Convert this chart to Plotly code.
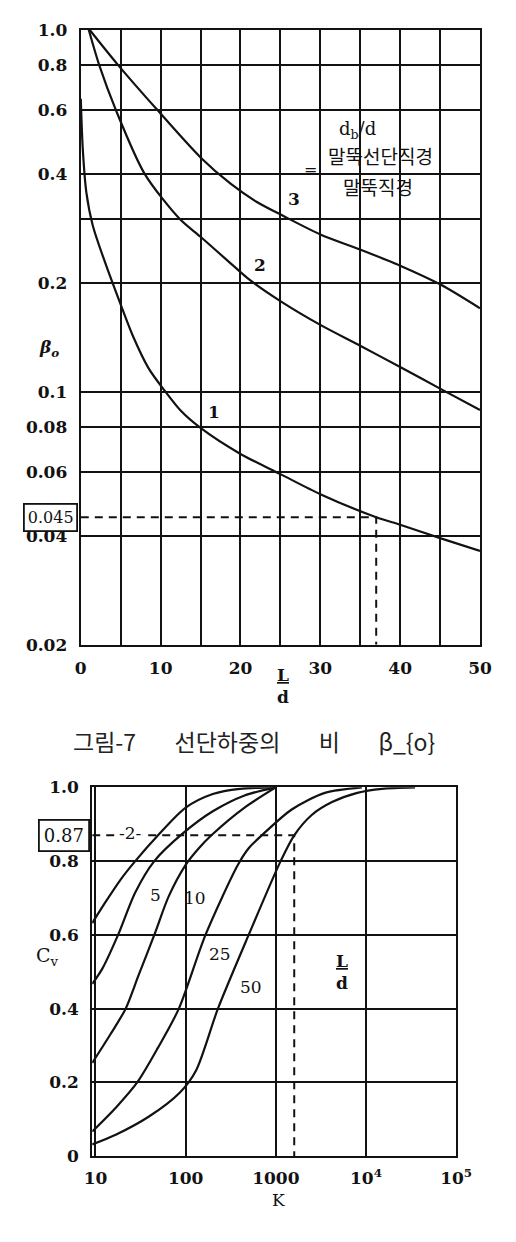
import math
import plotly.graph_objects as go

# page body has an 8px default margin -> lay the figure out in reference pixels minus 8
OFF = 8
W, H = 516 - OFF, 1242 - OFF


def fx(px):
    return (px - OFF) / W


def fy(py):
    return 1 - (py - OFF) / H


# ---------------- top chart: beta_o vs L/d ----------------
ld_ticks = [0, 10, 20, 30, 40, 50]
ld_minor = [5, 15, 25, 35, 45]
beta_ticks = [0.02, 0.04, 0.06, 0.08, 0.1, 0.2, 0.4, 0.6, 0.8, 1.0]
beta_ticktext = ["0.02", "0.04", "0.06", "0.08", "0.1", "0.2", "0.4", "0.6", "0.8", "1.0"]
beta_minor = [0.3]

c1_ld = [0, 0.25, 0.7, 1.5, 3, 5, 6.5, 8.5, 10.6, 12.5, 15, 20, 25, 30, 37, 40, 45, 50]
c1_beta = [0.645, 0.468, 0.355, 0.288, 0.229, 0.174, 0.143, 0.116, 0.1, 0.0887, 0.0794,
           0.0673, 0.0592, 0.0521, 0.045, 0.0429, 0.0394, 0.0363]
c2_ld = [1.0, 2.3, 4.4, 8.0, 12.4, 15, 18.8, 21, 25, 30, 35, 40, 45, 50]
c2_beta = [1.0, 0.8, 0.6, 0.4, 0.3, 0.268, 0.226, 0.205, 0.178, 0.153, 0.134, 0.117, 0.102, 0.089]
c3_ld = [1.1, 4.65, 9.6, 15, 18.8, 22, 25.5, 30, 35, 40, 45, 50]
c3_beta = [1.0, 0.8, 0.6, 0.444, 0.375, 0.335, 0.305, 0.272, 0.247, 0.223, 0.198, 0.17]

curve_labels_top = ["1", "2", "3"]
label_ld = [16.7, 22.5, 26.7]
label_beta = [0.088, 0.224, 0.341]

read_beta = 0.045
read_ld = 37

# ---------------- bottom chart: Cv vs K ----------------
k_ticks = [10, 100, 1000, 10000, 100000]
k_ticktext = ["10", "100", "1000", "10<sup>4</sup>", "10<sup>5</sup>"]
cv_ticks = [0, 0.2, 0.4, 0.6, 0.8, 1.0]
cv_ticktext = ["0", "0.2", "0.4", "0.6", "0.8", "1.0"]
k_min = 9.2

r2_k = [9.2, 13, 19, 27.6, 49.4, 100, 200, 400, 1000]
r2_cv = [0.632, 0.69, 0.75, 0.8, 0.87, 0.945, 0.982, 0.996, 1.0]
r5_k = [9.2, 12, 17.8, 27.6, 44.9, 93, 200, 450, 1000]
r5_cv = [0.467, 0.51, 0.6, 0.715, 0.8, 0.875, 0.935, 0.978, 1.0]
r10_k = [9.2, 14.6, 21.6, 30, 44.9, 65, 100, 140, 193, 450, 1000]
r10_cv = [0.253, 0.33, 0.40, 0.49, 0.6, 0.705, 0.79, 0.835, 0.87, 0.945, 1.0]
r25_k = [9.2, 17, 29, 49, 84, 166, 380, 500, 700, 1500, 3500, 9000]
r25_cv = [0.067, 0.133, 0.2, 0.293, 0.40, 0.6, 0.79, 0.835, 0.87, 0.94, 0.985, 1.0]
r50_k = [9.2, 17, 38.8, 86.4, 130, 228, 500, 1130, 1600, 2500, 4200, 8000, 15000, 35000]
r50_cv = [0.032, 0.059, 0.107, 0.173, 0.232, 0.40, 0.6, 0.8, 0.87, 0.925, 0.96, 0.985, 0.996, 1.0]

curve_labels_bot = ["-2-", "5", "10", "25", "50"]
label_k = [24.4, 46, 128, 240, 535]
label_cv = [0.875, 0.707, 0.70, 0.547, 0.46]

read_cv = 0.87
read_k = 1600

INK = "#121212"
SERIF = "DejaVu Serif"
KR = "Noto Sans CJK KR"

fig = go.Figure()


def curve(x, y, xa, ya):
    fig.add_trace(go.Scatter(x=x, y=y, mode="lines", xaxis=xa, yaxis=ya,
                             line=dict(color=INK, width=2.2, shape="spline", smoothing=0.8),
                             hoverinfo="skip", showlegend=False))


for xs, ys in [(c1_ld, c1_beta), (c2_ld, c2_beta), (c3_ld, c3_beta)]:
    curve(xs, ys, "x", "y")
for xs, ys in [(r2_k, r2_cv), (r5_k, r5_cv), (r10_k, r10_cv), (r25_k, r25_cv), (r50_k, r50_cv)]:
    curve(xs, ys, "x2", "y2")

# dashed reading lines
fig.add_trace(go.Scatter(x=[ld_ticks[0], read_ld, read_ld], y=[read_beta, read_beta, beta_ticks[0]],
                         mode="lines", xaxis="x", yaxis="y",
                         line=dict(color=INK, width=2, dash="8px,6px"),
                         hoverinfo="skip", showlegend=False))
fig.add_trace(go.Scatter(x=[k_min, read_k, read_k], y=[read_cv, read_cv, cv_ticks[0]],
                         mode="lines", xaxis="x2", yaxis="y2",
                         line=dict(color=INK, width=2, dash="8px,6px"),
                         hoverinfo="skip", showlegend=False))

axis_common = dict(showline=True, linecolor=INK, linewidth=2.2, mirror=True,
                   showgrid=True, gridcolor=INK, gridwidth=1.8, zeroline=False,
                   ticks="", tickfont=dict(family=SERIF, size=17, color=INK, weight="bold"),
                   fixedrange=True)
minor_common = dict(showgrid=True, gridcolor=INK, gridwidth=1.8, ticks="")

fig.update_layout(
    width=W, height=H, margin=dict(l=0, r=0, t=0, b=0),
    paper_bgcolor="white", plot_bgcolor="white", showlegend=False,
    xaxis=dict(domain=[fx(76), fx(495)], range=[0, 50], anchor="y",
               tickmode="array", tickvals=ld_ticks, ticklabelstandoff=7,
               minor=dict(tickmode="array", tickvals=ld_minor, **minor_common), **axis_common),
    yaxis=dict(domain=[fy(645), fy(20)], type="log",
               range=[math.log10(beta_ticks[0]), math.log10(beta_ticks[-1])], anchor="x",
               tickmode="array", tickvals=beta_ticks, ticktext=beta_ticktext, ticklabelstandoff=8,
               minor=dict(tickmode="array", tickvals=beta_minor, **minor_common), **axis_common),
    xaxis2=dict(domain=[fx(88), fx(470)], type="log",
                range=[math.log10(k_min), math.log10(k_ticks[-1])], anchor="y2",
                tickmode="array", tickvals=k_ticks, ticktext=k_ticktext, ticklabelstandoff=5,
                **axis_common),
    yaxis2=dict(domain=[fy(1165), fy(790)], range=[0, 1], anchor="x2",
                tickmode="array", tickvals=cv_ticks, ticktext=cv_ticktext, ticklabelstandoff=8,
                **axis_common),
)

L = math.log10
shapes = [
    # white box behind the d_b/d legend text
    dict(type="rect", xref="x", yref="y", x0=29.0, x1=46.5, y0=L(0.4), y1=L(0.59),
         fillcolor="white", line=dict(width=0), layer="between"),
    dict(type="rect", xref="x", yref="y", x0=29.0, x1=42.5, y0=L(0.305), y1=L(0.4),
         fillcolor="white", line=dict(width=0), layer="between"),
    dict(type="line", xref="x", yref="y", x0=29.0, x1=46.5, y0=L(0.4), y1=L(0.4),
         line=dict(color=INK, width=1.8), layer="between"),
    # bracket
    dict(type="line", xref="x", yref="y", x0=29.4, x1=29.4, y0=L(0.419), y1=L(0.557),
         line=dict(color=INK, width=1.8), layer="above"),
]
fig.update_layout(shapes=shapes)

ann = []
tf = dict(family=SERIF, size=17, color=INK, weight="bold")
for t, xv, yv in zip(curve_labels_top, label_ld, label_beta):
    ann.append(dict(text=t, x=xv, y=L(yv), xref="x", yref="y", showarrow=False, font=tf))
for t, xv, yv in zip(curve_labels_bot, label_k, label_cv):
    a = dict(text=t, x=L(xv), y=yv, xref="x2", yref="y2", showarrow=False,
             font=dict(family=SERIF, size=17, color=INK))
    if t == "-2-":
        a["bgcolor"] = "white"
    ann.append(a)

ann += [
    dict(text="d<sub>b</sub>/d", x=34.7, y=L(0.53), xref="x", yref="y", showarrow=False,
         font=dict(family=SERIF, size=18, color=INK)),
    dict(text="말뚝선단직경", x=37.5, y=L(0.45), xref="x", yref="y", showarrow=False,
         font=dict(family=KR, size=19, color=INK)),
    dict(text="말뚝직경", x=37.2, y=L(0.368), xref="x", yref="y", showarrow=False,
         font=dict(family=KR, size=19, color=INK)),
    dict(text="=", x=28.8, y=L(0.41), xref="x", yref="y", showarrow=False,
         font=dict(family=SERIF, size=16, color=INK)),
    # axis titles
    dict(text="<i>β<sub>o</sub></i>", x=fx(30), y=fy(330), xref="paper", yref="paper",
         showarrow=False, font=dict(family=SERIF, size=17, color=INK, weight="bold")),
    dict(text="<u>L</u><br>d", x=25.3, y=fy(687), xref="x", yref="paper",
         showarrow=False, font=dict(family=SERIF, size=17, color=INK, weight="bold")),
    dict(text="C<sub>v</sub>", x=fx(27), y=fy(977), xref="paper", yref="paper",
         showarrow=False, font=dict(family=SERIF, size=19, color=INK)),
    dict(text="K", x=fx(283), y=fy(1222), xref="paper", yref="paper",
         showarrow=False, font=dict(family=SERIF, size=17, color=INK)),
    dict(text="<u>L</u><br>d", x=L(5400), y=0.50, xref="x2", yref="y2",
         showarrow=False, font=dict(family=SERIF, size=17, color=INK, weight="bold")),
    # boxed reading values
    dict(text=f"{read_beta}", x=fx(76), xanchor="right", xshift=-3, y=L(read_beta),
         xref="paper", yref="y", showarrow=False, bgcolor="white", bordercolor=INK,
         borderwidth=1.8, borderpad=3, font=dict(family=SERIF, size=16, color=INK)),
    dict(text=f"{read_cv}", x=fx(88), xanchor="right", xshift=-2, y=read_cv,
         xref="paper", yref="y2", showarrow=False, bgcolor="white", bordercolor=INK,
         borderwidth=1.8, borderpad=4, font=dict(family=SERIF, size=18, color=INK)),
    # caption
    dict(text="그림-7\u3000\u00a0\u00a0\u00a0선단하중의\u3000\u00a0\u00a0\u00a0비\u3000\u00a0\u00a0\u00a0β_{o}",
         x=fx(258), y=fy(743), xref="paper", yref="paper", showarrow=False,
         font=dict(family=KR, size=23, color="#222222")),
]
fig.update_layout(annotations=ann)

fig.write_html("out.html")
